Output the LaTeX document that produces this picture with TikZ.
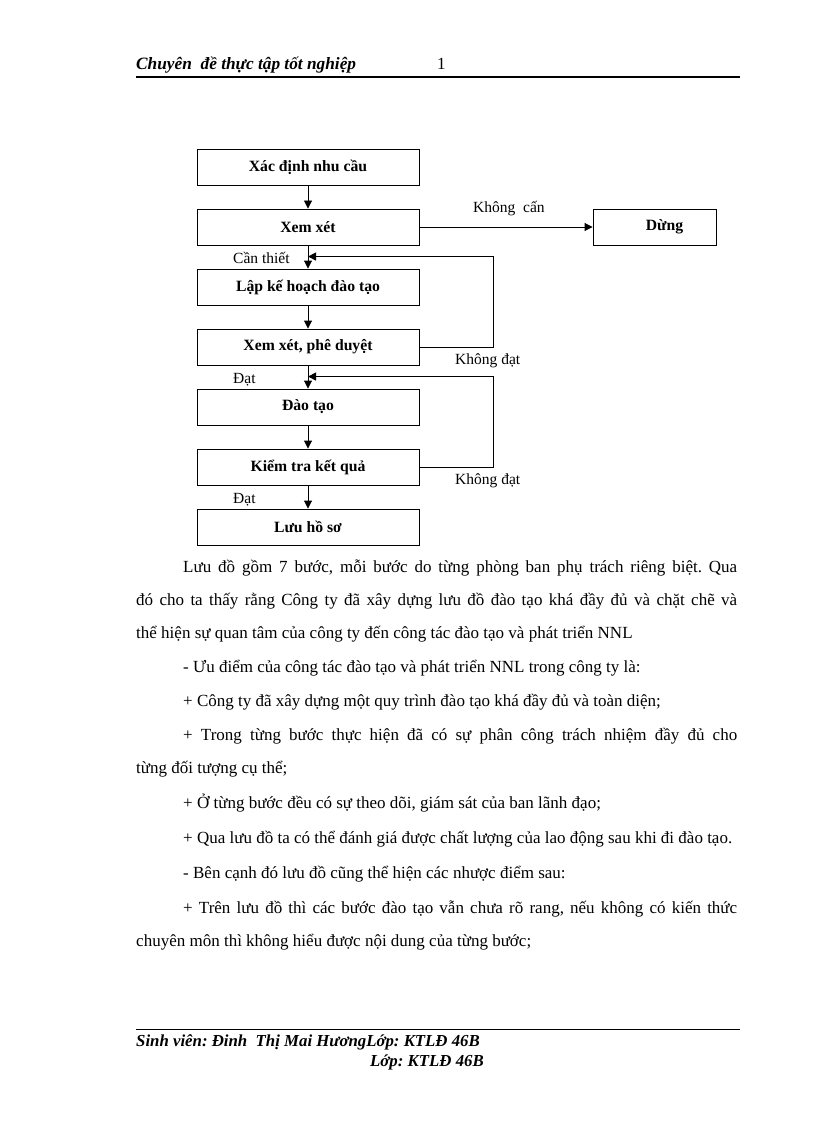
\documentclass[tikz,border=0pt]{standalone}
\usepackage{fontspec}
\setmainfont{Liberation Serif}
\usetikzlibrary{arrows.meta}
\frenchspacing
\begin{document}
\begin{tikzpicture}[x=1pt,y=-1pt,
  box/.style={draw,line width=0.9pt,minimum width=222pt,minimum height=36pt,inner sep=0pt,font=\fontsize{15.7}{18}\selectfont\bfseries},
  lbl/.style={font=\fontsize{15.5}{18}\selectfont,inner sep=0pt,anchor=base west},
  body/.style={font=\fontsize{17}{20}\selectfont,inner sep=0pt,anchor=base west},
  bi/.style={font=\fontsize{17.3}{20}\selectfont\bfseries\itshape,inner sep=0pt,anchor=base west},
  fbi/.style={font=\fontsize{16.8}{20}\selectfont\bfseries\itshape,inner sep=0pt,anchor=base west},
  arr/.style={line width=0.9pt,-{Triangle[length=8pt,width=8pt]}},
  ln/.style={line width=0.9pt}]
\useasboundingbox (0,0) rectangle (816,1123);
\fill[white] (0,0) rectangle (816,1123);
% header
\node[bi] (hdr) at (136,70) {Chuyên~~đề thực tập tốt nghiệp};
\node[body] (pg) at (437,70) {1};
\draw[line width=2.2pt] (136,77) -- (740,77);
% flowchart
\node[box] (b1) at (308,167) {Xác định nhu cầu};
\node[box] (b2) at (308,227) {Xem xét};
\node[box] (b3) at (308,287) {Lập kế hoạch đào tạo};
\node[box] (b4) at (308,347) {Xem xét, phê duyệt};
\node[box] (b5) at (308,407) {Đào tạo};
\node[box] (b6) at (308,467) {Kiểm tra kết quả};
\node[box] (b7) at (308,527) {Lưu hồ sơ};
\node[box,minimum width=123pt] (stop) at (654.5,227) {\hspace*{20pt}Dừng};
\path (b3.north) ++(0,-12) coordinate (j1);
\path (b5.north) ++(0,-12) coordinate (j2);
\draw[arr] (b1) -- (b2);
\draw[arr] (b2) -- (b3);
\draw[arr] (b3) -- (b4);
\draw[arr] (b4) -- (b5);
\draw[arr] (b5) -- (b6);
\draw[arr] (b6) -- (b7);
\draw[arr] (b2) -- (stop);
\draw[arr] (b4.east) -- ++(74,0) |- (j1);
\draw[arr] (b6.east) -- ++(74,0) |- (j2);
\node[lbl] (l1) at (473,213) {Không~~cấn};
\node[lbl] (l2) at (233,263) {Cần thiết};
\node[lbl] (l3) at (455,364) {Không đạt};
\node[lbl] (l4) at (233,383) {Đạt};
\node[lbl] (l5) at (455,484) {Không đạt};
\node[lbl] (l6) at (233,503) {Đạt};
% body text
\node[body] (t1) at (183,572) {\makebox[554pt][s]{Lưu đồ gồm 7 bước, mỗi bước do từng phòng ban phụ trách riêng biệt. Qua}};
\node[body] (t2) at (136,605) {\makebox[601pt][s]{đó cho ta thấy rằng Công ty đã xây dựng lưu đồ đào tạo khá đầy đủ và chặt chẽ và}};
\node[body] (t3) at (136,638) {thể hiện sự quan tâm của công ty đến công tác đào tạo và phát triển NNL};
\node[body] (t4) at (183,672) {- Ưu điểm của công tác đào tạo và phát triển NNL trong công ty là:};
\node[body] (t5) at (183,706) {+ Công ty đã xây dựng một quy trình đào tạo khá đầy đủ và toàn diện;};
\node[body] (t6) at (183,740) {\makebox[554pt][s]{+ Trong từng bước thực hiện đã có sự phân công trách nhiệm đầy đủ cho}};
\node[body] (t7) at (136,773) {từng đối tượng cụ thể;};
\node[body] (t8) at (183,808) {+ Ở từng bước đều có sự theo dõi, giám sát của ban lãnh đạo;};
\node[body] (t9) at (183,843) {+ Qua lưu đồ ta có thể đánh giá được chất lượng của lao động sau khi đi đào tạo.};
\node[body] (t10) at (183,878) {- Bên cạnh đó lưu đồ cũng thể hiện các nhược điểm sau:};
\node[body] (t11) at (183,913) {\makebox[554pt][s]{+ Trên lưu đồ thì các bước đào tạo vẫn chưa rõ rang, nếu không có kiến thức}};
\node[body] (t12) at (136,946) {chuyên môn thì không hiểu được nội dung của từng bước;};
% footer
\draw[line width=0.8pt] (136,1029) -- (740,1029);
\node[fbi] (ft1) at (136,1046) {Sinh viên: Đinh~~Thị Mai HươngLớp: KTLĐ 46B};
\node[fbi] (ft2) at (370,1066) {Lớp: KTLĐ 46B};
\end{tikzpicture}
\end{document}
